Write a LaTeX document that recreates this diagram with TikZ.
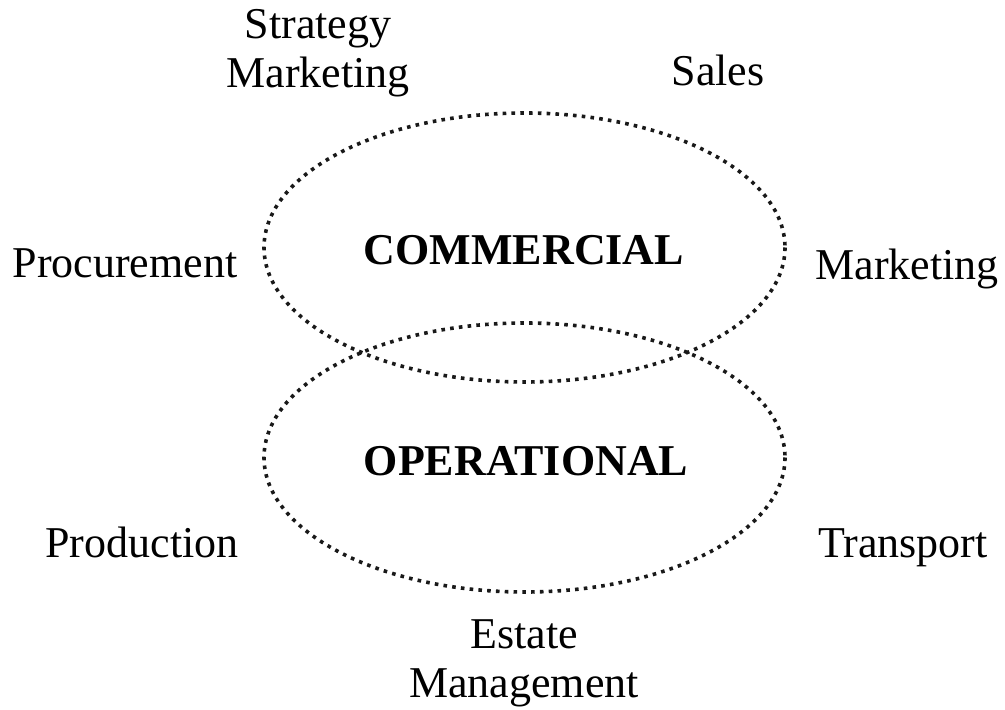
\documentclass[tikz,border=0pt]{standalone}
\usepackage{fontspec}
\setmainfont{Liberation Serif}
\begin{document}
\begin{tikzpicture}[x=0.5pt,y=-0.5pt,
  lbl/.style={inner sep=0pt,anchor=base,align=center,font=\fontsize{22}{24.5}\selectfont},
  area/.style={inner sep=0pt,anchor=base,font=\fontsize{22}{24.5}\selectfont\bfseries},
  ring/.style={draw=black!90,line width=1.8pt,dash pattern=on 1.8pt off 2.6pt}]
\useasboundingbox (0,0) rectangle (1005,710);
% the two overlapping areas
\draw[ring] (524.5,247.5) ellipse [x radius=260.5, y radius=134.5];
\draw[ring] (524.5,457.5) ellipse [x radius=260.5, y radius=134.5];
\node[area] (com) at (524,265) {COMMERCIAL};
\node[area] (ops) at (526,475) {OPERATIONAL};
% surrounding functions
\node[lbl,anchor=north] (strat) at (318,9) {Strategy\\Marketing};
\node[lbl] (sales) at (718,86) {Sales};
\node[lbl] (proc) at (125,278) {Procurement};
\node[lbl] (mkt) at (907,280) {Marketing};
\node[lbl] (prod) at (142,557) {Production};
\node[lbl] (trans) at (903,557) {Transport};
\node[lbl,anchor=north] (estate) at (524,619) {Estate\\Management};
\end{tikzpicture}
\end{document}
